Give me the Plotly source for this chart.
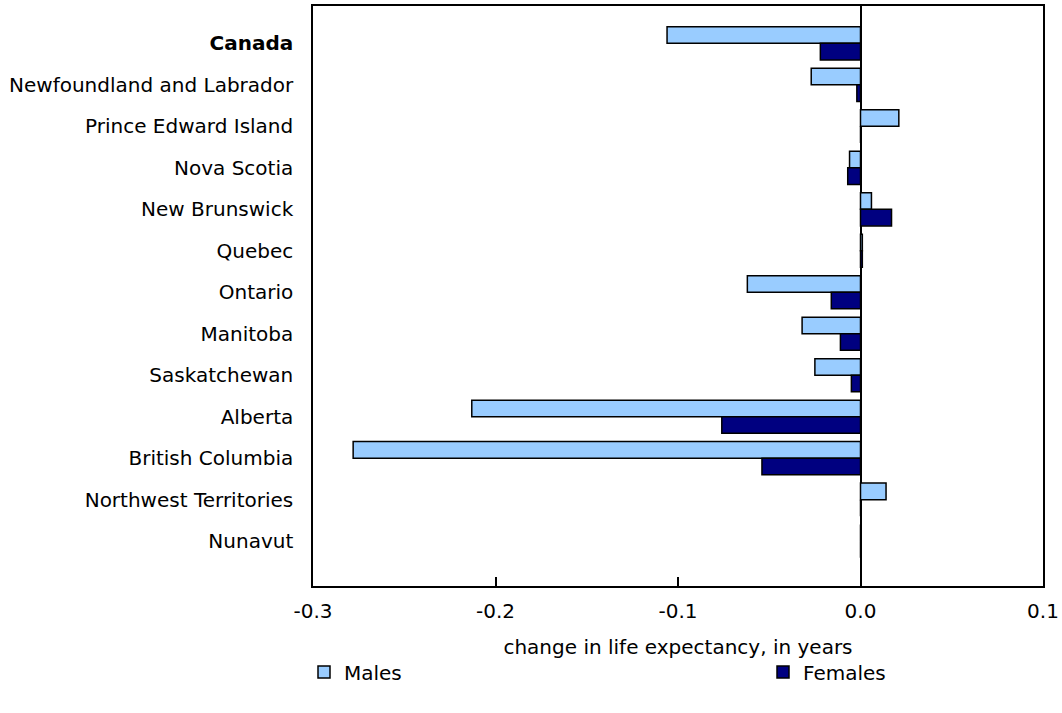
import plotly.graph_objects as go

regions = ["Canada", "Newfoundland and Labrador", "Prince Edward Island", "Nova Scotia",
           "New Brunswick", "Quebec", "Ontario", "Manitoba", "Saskatchewan", "Alberta",
           "British Columbia", "Northwest Territories", "Nunavut"]
males = [-0.106, -0.027, 0.021, -0.006, 0.006, 0.001, -0.062, -0.032, -0.025, -0.213, -0.278, 0.014, 0.0]
females = [-0.022, -0.002, 0.0, -0.007, 0.017, 0.001, -0.016, -0.011, -0.005, -0.076, -0.054, 0.0, 0.0]
tick_labels = ["<b>Canada</b>"] + regions[1:]
x_ticks = [-0.3, -0.2, -0.1, 0.0, 0.1]
x_tick_labels = ["-0.3", "-0.2", "-0.1", "0.0", "0.1"]

FONT = "DejaVu Sans"
FS = 20

fig = go.Figure()
fig.add_trace(go.Bar(y=regions, x=males, orientation="h", name="Males", legend="legend",
                     marker=dict(color="#99CCFF", line=dict(color="#000000", width=1.5))))
fig.add_trace(go.Bar(y=regions, x=females, orientation="h", name="Females", legend="legend2",
                     marker=dict(color="#000080", line=dict(color="#000000", width=1.5))))

W, H = 1062, 713
ML, MR, MT, MB = 313, 19, 6, 127
pw, ph = W - ML - MR, H - MT - MB

def px_x(x):
    return (x - ML) / pw

def px_y(y):
    return (H - MB - y) / ph

fig.update_layout(
    width=W, height=H,
    margin=dict(l=ML, r=MR, t=MT, b=MB, autoexpand=False),
    paper_bgcolor="white", plot_bgcolor="white",
    barmode="group", bargap=0.2, bargroupgap=0,
    font=dict(family=FONT, size=FS, color="#000000"),
    showlegend=True,
    legend=dict(x=px_x(304), y=px_y(672), xanchor="left", yanchor="middle",
                font=dict(size=FS), bgcolor="rgba(0,0,0,0)"),
    legend2=dict(x=px_x(763), y=px_y(672), xanchor="left", yanchor="middle",
                 font=dict(size=FS), bgcolor="rgba(0,0,0,0)"),
    xaxis=dict(range=[-0.3, 0.1], tickvals=x_ticks, ticktext=x_tick_labels,
               showgrid=False, zeroline=True, zerolinecolor="#000000", zerolinewidth=2,
               showline=True, linecolor="#000000", linewidth=1.5, mirror=True,
               ticks="inside", ticklen=9, tickwidth=1.5, tickcolor="#000000",
               ticklabelstandoff=6, automargin=False,
               title=dict(text="change in life expectancy, in years", standoff=18,
                          font=dict(size=FS))),
    yaxis=dict(categoryorder="array", categoryarray=regions, tickvals=regions, ticktext=tick_labels,
               range=[13.08, -0.9], showgrid=False, zeroline=False,
               showline=True, linecolor="#000000", linewidth=1.5, mirror=True,
               ticks="", ticklabelstandoff=14, automargin=False),
)

fig.write_html("out.html", config={"displayModeBar": False},
               post_script="document.body.style.margin='0px';")
